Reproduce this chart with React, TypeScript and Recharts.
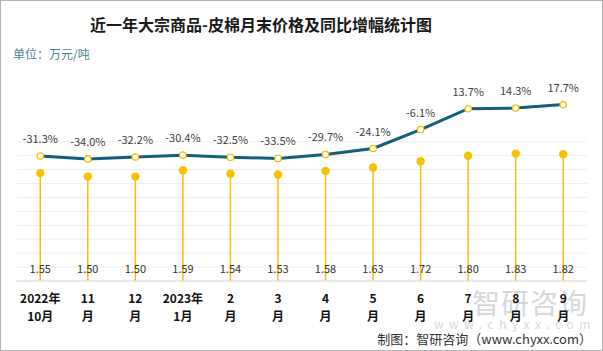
import React from 'react';
import { Bar, ComposedChart, CartesianGrid, LabelList, Line, XAxis, YAxis } from 'recharts';

const TICK_TOP = ['2022年', '11', '12', '2023年', '2', '3', '4', '5', '6', '7', '8', '9'];
const TICK_BOTTOM = ['10月', '月', '月', '1月', '月', '月', '月', '月', '月', '月', '月', '月'];
const PRICE = [1.55, 1.5, 1.5, 1.59, 1.54, 1.53, 1.58, 1.63, 1.72, 1.8, 1.83, 1.82];
const YOY = [-31.3, -34.0, -32.2, -30.4, -32.5, -33.5, -29.7, -24.1, -6.1, 13.7, 14.3, 17.7];
const PRICE_TICKS = [0, 0.2, 0.4, 0.6, 0.8, 1.0, 1.2, 1.4, 1.6, 1.8, 2.0];
const PRICE_MAX = 2.6;

const data = TICK_TOP.map((t, i) => ({
  idx: i,
  price: PRICE[i],
  yoy: YOY[i],
}));

const FONT = '"Microsoft YaHei", "Noto Sans CJK SC", sans-serif';
const YELLOW = '#f7c100';
const TEAL = '#125f7d';

function Lollipop(props: any) {
  const { x, y, width, height } = props;
  const cx = x + width / 2;
  return (
    <g>
      <line x1={cx} x2={cx} y1={y} y2={y + height} stroke={YELLOW} strokeWidth={1.5} />
      <circle cx={cx} cy={y} r={4.2} fill={YELLOW} />
    </g>
  );
}

function PriceLabel(props: any) {
  const { x, y, width, height, value } = props;
  return (
    <text x={x + width / 2} y={y + height - 8} textAnchor="middle" fontSize={11} fill="#333" fontFamily={FONT}>
      {Number(value).toFixed(2)}
    </text>
  );
}

function YoyLabel(props: any) {
  const { x, y, value } = props;
  return (
    <text x={x} y={y - 13} textAnchor="middle" fontSize={11} fill="#404040" fontFamily={FONT}>
      {Number(value).toFixed(1)}%
    </text>
  );
}

function MonthTick(props: any) {
  const { x, y, payload } = props;
  const i = payload.value;
  return (
    <g>
      <text x={x} y={y + 14} textAnchor="middle" fontSize={12} fontWeight="bold" fill="#111" fontFamily={FONT}>
        {TICK_TOP[i]}
      </text>
      <text x={x} y={y + 32} textAnchor="middle" fontSize={12} fontWeight="bold" fill="#111" fontFamily={FONT}>
        {TICK_BOTTOM[i]}
      </text>
    </g>
  );
}

export default function App() {
  return (
    <div
      style={{
        position: 'absolute',
        left: 0,
        top: 0,
        width: 603,
        height: 351,
        background: '#fff',
        border: '1px solid #b4b4b4',
        boxSizing: 'border-box',
        fontFamily: FONT,
        overflow: 'hidden',
      }}
    >
      <div style={{ position: 'absolute', left: 60, width: 400, top: 12, textAlign: 'center', fontSize: 16, fontWeight: 'bold', color: '#1a1a1a', lineHeight: '22px' }}>
        近一年大宗商品-皮棉月末价格及同比增幅统计图
      </div>
      <div style={{ position: 'absolute', left: 12, top: 45, fontSize: 12, color: '#4f7f92', lineHeight: '16px' }}>
        单位：万元/吨
      </div>
      <div style={{ position: 'absolute', left: 471, top: 284, fontSize: 28, color: '#d5d8db', lineHeight: '34px', letterSpacing: 1 }}>
        智研咨询
      </div>
      <div style={{ position: 'absolute', left: 433, top: 316, fontSize: 12, color: '#d5d8db', lineHeight: '14px', letterSpacing: 5.5 }}>
        www.chyxx.com
      </div>
      <div style={{ position: 'absolute', left: -1, top: -1, width: 603, height: 351 }}>
        <ComposedChart
          width={603}
          height={351}
          data={data}
          margin={{ top: 100, right: 16, bottom: 0, left: 16.5 }}
        >
          <CartesianGrid
            vertical={false}
            stroke="#eeeeee"
            yAxisId="p"
            horizontalCoordinatesGenerator={({ offset }: any) =>
              PRICE_TICKS.map((v) => offset.top + offset.height * (1 - v / PRICE_MAX))
            }
          />
          <XAxis
            dataKey="idx"
            tick={<MonthTick />}
            tickLine={false}
            axisLine={{ stroke: '#d9d9d9' }}
            interval={0}
            height={70}
          />
          <YAxis yAxisId="p" hide domain={[0, PRICE_MAX]} ticks={PRICE_TICKS} />
          <YAxis yAxisId="r" orientation="right" hide domain={[-150, 22]} />
          <Bar yAxisId="p" dataKey="price" shape={<Lollipop />} isAnimationActive={false}>
            <LabelList dataKey="price" content={<PriceLabel />} />
          </Bar>
          <Line
            yAxisId="r"
            dataKey="yoy"
            stroke={TEAL}
            strokeWidth={3}
            dot={{ r: 3.2, fill: '#fff', stroke: YELLOW, strokeWidth: 1.3 }}
            activeDot={false}
            isAnimationActive={false}
          >
            <LabelList dataKey="yoy" content={<YoyLabel />} />
          </Line>
        </ComposedChart>
      </div>
      <div style={{ position: 'absolute', right: 10, top: 330, fontSize: 13, color: '#333', lineHeight: '16px' }}>
        制图：智研咨询（www.chyxx.com）
      </div>
    </div>
  );
}
